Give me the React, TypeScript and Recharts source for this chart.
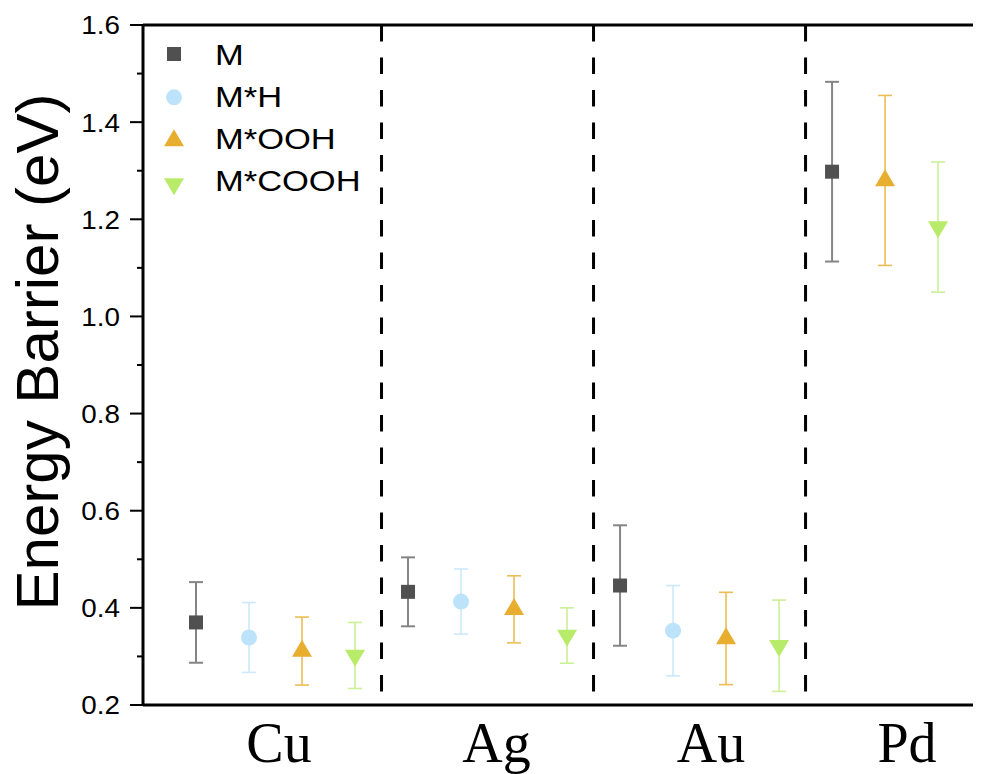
import React from 'react';
import { ScatterChart, Scatter, XAxis, YAxis, ErrorBar, ReferenceLine, Legend } from 'recharts';

// ---------- data ----------
const metals = ['Cu', 'Ag', 'Au', 'Pd'];
const seriesNames = ['M', 'M*H', 'M*OOH', 'M*COOH'];

const mValues = [0.37, 0.433, 0.446, 1.298];
const mErrors = [0.083, 0.071, 0.124, 0.185];
const mhValues = [0.339, 0.413, 0.353, null];
const mhErrors = [0.072, 0.067, 0.093, null];
const moohValues = [0.311, 0.397, 0.337, 1.28];
const moohErrors = [0.07, 0.069, 0.095, 0.175];
const mcoohValues = [0.302, 0.343, 0.322, 1.184];
const mcoohErrors = [0.068, 0.057, 0.094, 0.134];

const yTicks = [0.2, 0.3, 0.4, 0.5, 0.6, 0.7, 0.8, 0.9, 1.0, 1.1, 1.2, 1.3, 1.4, 1.5, 1.6];

// ---------- styles ----------
const markerColors = ['#505050', '#bde3fb', '#e8ae30', '#b8eb6a'];
const errorColors = ['#858585', '#cbe9fb', '#ecbd55', '#cbf096'];
const errorWidths = [2, 1.6, 1.6, 1.6];
const labelDx = [3.5, 9, 11.5, 22];

const allValues = [mValues, mhValues, moohValues, mcoohValues];
const allErrors = [mErrors, mhErrors, moohErrors, mcoohErrors];

// build slots (sequential x positions, skipping missing values)
type Pt = { x: number; y: number; err: number };
const seriesData: Pt[][] = seriesNames.map(() => []);
const groupSlots: number[][] = metals.map(() => []);
let slot = 0;
metals.forEach((_, gi) => {
  seriesNames.forEach((_, si) => {
    const v = allValues[si][gi];
    const e = allErrors[si][gi];
    if (v !== null && v !== undefined) {
      seriesData[si].push({ x: slot, y: v as number, err: e as number });
      groupSlots[gi].push(slot);
      slot += 1;
    }
  });
});
const groupCenters = groupSlots.map((s) => (s[0] + s[s.length - 1]) / 2);
const dividers = groupSlots.slice(0, -1).map((s, i) => (s[s.length - 1] + groupSlots[i + 1][0]) / 2);

const SANS = '"Liberation Sans", Arial, Helvetica, sans-serif';
const SERIF = '"Liberation Serif", "Times New Roman", serif';

function Marker({ kind, cx, cy }: { kind: number; cx: number; cy: number }) {
  const c = markerColors[kind];
  if (kind === 0) return <rect x={cx - 7} y={cy - 7} width={14} height={14} fill={c} />;
  if (kind === 1) return <circle cx={cx} cy={cy} r={8} fill={c} />;
  if (kind === 2)
    return <polygon points={`${cx - 10},${cy + 5.7} ${cx + 10},${cy + 5.7} ${cx},${cy - 11.3}`} fill={c} />;
  return <polygon points={`${cx - 10},${cy - 5.7} ${cx + 10},${cy - 5.7} ${cx},${cy + 11.3}`} fill={c} />;
}

const makeShape = (kind: number) => (props: any) => {
  if (props.cx == null || props.cy == null) return <g />;
  return <Marker kind={kind} cx={props.cx} cy={props.cy} />;
};

const YTick = (props: any) => {
  const { x, y, payload, index } = props;
  const major = index % 2 === 0;
  return (
    <g>
      <line x1={x - (major ? 13 : 6)} x2={x} y1={y} y2={y} stroke="#000" strokeWidth={2} />
      {major && (
        <text
          transform={`translate(${x - 23},${y}) scale(1.07,1)`}
          x={0}
          y={0}
          dy="0.36em"
          textAnchor="end"
          fontSize={26}
          fontFamily={SANS}
          fill="#000"
        >
          {Number(payload.value).toFixed(1)}
        </text>
      )}
    </g>
  );
};

const XTick = (props: any) => {
  const { x, y, index } = props;
  return (
    <text x={x + labelDx[index]} y={y + 57} textAnchor="middle" fontSize={56} fontFamily={SERIF} fill="#000">
      {metals[index]}
    </text>
  );
};

const LegendBox = () => (
  <svg width={260} height={200} style={{ display: 'block' }}>
    {seriesNames.map((n, i) => (
      <g key={n}>
        <Marker kind={i} cx={16} cy={26 + i * 43.3} />
        <text
          transform={`translate(57,${37 + i * 42}) scale(1.15,1)`}
          x={0}
          y={0}
          fontSize={30}
          fontFamily={SANS}
          fill="#000"
        >
          {n}
        </text>
      </g>
    ))}
  </svg>
);

export default function App() {
  return (
    <ScatterChart width={973} height={766} margin={{ top: 17, right: 0, bottom: 9, left: 0 }}>
      <XAxis
        type="number"
        dataKey="x"
        domain={[-1, 14.81]}
        allowDataOverflow
        ticks={groupCenters}
        interval={0}
        tickLine={false}
        tickSize={0}
        tickMargin={0}
        height={60}
        axisLine={{ stroke: '#000', strokeWidth: 3 }}
        tick={<XTick />}
      />
      <YAxis
        type="number"
        dataKey="y"
        domain={[0.2, 1.6]}
        allowDataOverflow
        ticks={yTicks}
        interval={0}
        width={135}
        tickLine={false}
        tickSize={0}
        tickMargin={0}
        axisLine={{ stroke: '#000', strokeWidth: 3 }}
        tick={<YTick />}
        label={{
          content: () => (
            <text
              x={50}
              y={344}
              transform="rotate(-90 50 344)"
              textAnchor="middle"
              fontSize={60}
              fontFamily={SANS}
              fill="#000"
            >
              Energy Barrier (eV)
            </text>
          ),
        }}
      />
      <ReferenceLine y={1.6} stroke="#000" strokeWidth={3} />
      {dividers.map((d) => (
        <ReferenceLine
          key={d}
          segment={[{ x: d, y: 1.6 }, { x: d, y: 0.2 }]}
          stroke="#000"
          strokeWidth={3}
          strokeDasharray="16.5 16"
          ifOverflow="visible"
        />
      ))}
      {seriesNames.map((n, i) => (
        <Scatter key={n} name={n} data={seriesData[i]} shape={makeShape(i)} isAnimationActive={false}>
          <ErrorBar
            dataKey="err"
            direction="y"
            width={7}
            stroke={errorColors[i]}
            strokeWidth={errorWidths[i]}
            isAnimationActive={false}
          />
        </Scatter>
      ))}
      <Legend
        layout="vertical"
        align="center"
        verticalAlign="middle"
        content={() => <LegendBox />}
        wrapperStyle={{ position: 'absolute', left: 150, top: 20, width: 260, height: 200 }}
      />
    </ScatterChart>
  );
}
